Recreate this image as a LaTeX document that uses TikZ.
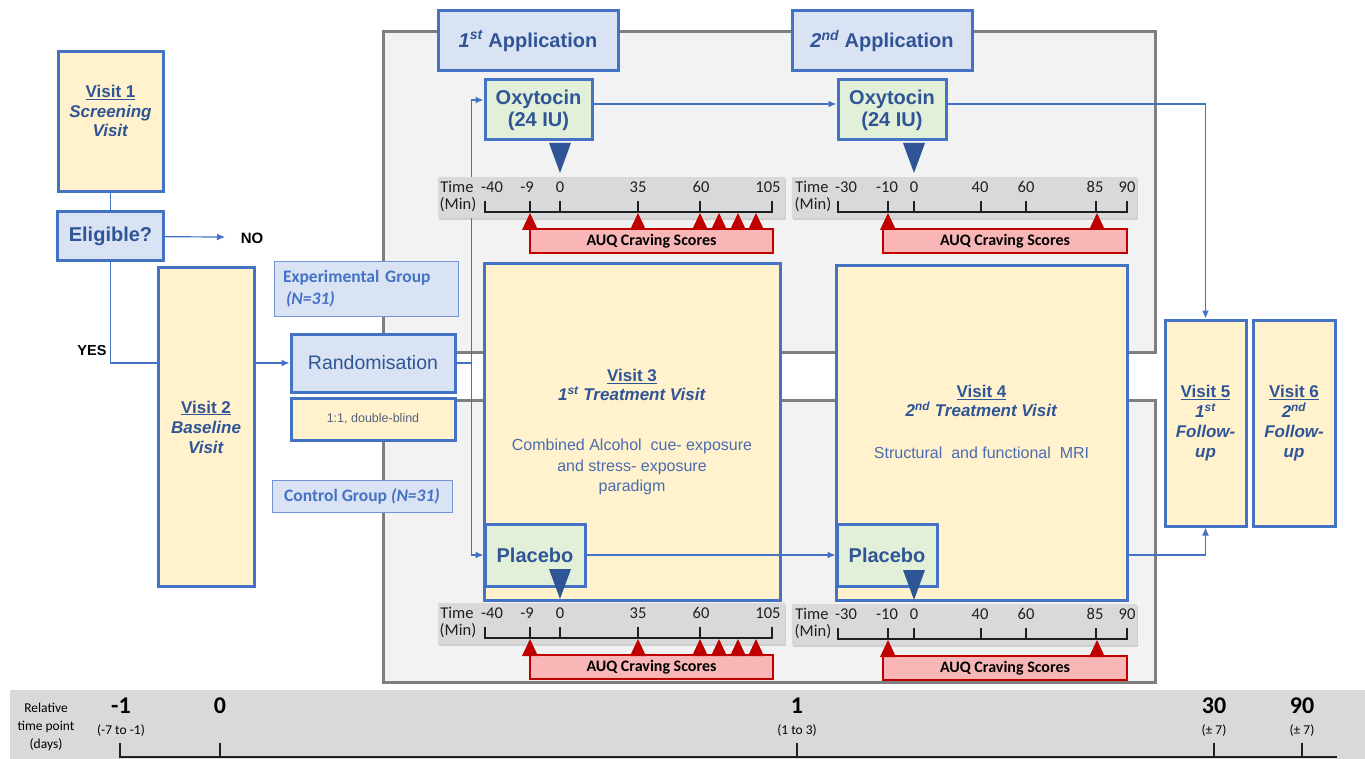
\documentclass[tikz,border=0pt]{standalone}
\usepackage{fontspec}
\setmainfont{Liberation Sans}
\newfontfamily\calfont{Carlito}
\usetikzlibrary{arrows.meta,shadows}
\definecolor{boxblue}{HTML}{4472C4}
\definecolor{txtblue}{HTML}{2F5597}
\definecolor{descblue}{HTML}{4A6CB0}
\definecolor{ratiogrey}{HTML}{55627A}
\definecolor{boxyellow}{HTML}{FFF2CC}
\definecolor{boxlblue}{HTML}{DAE3F3}
\definecolor{boxgreen}{HTML}{E2F0D9}
\definecolor{panelfill}{HTML}{F2F2F2}
\definecolor{panelgrey}{HTML}{7F7F7F}
\definecolor{stripgrey}{HTML}{D9D9D9}
\definecolor{auqred}{HTML}{C00000}
\definecolor{auqpink}{HTML}{F8B6B6}
\definecolor{ticktext}{HTML}{1F1F1F}
\newcommand{\fsz}[2]{\fontsize{#1}{#2}\selectfont}

\tikzset{
  box/.style={draw=boxblue, line width=3pt, text=txtblue, align=center, inner sep=0pt},
  visit/.style={box, fill=boxyellow, font=\bfseries\fsz{17}{20}},
  vlab/.style={text=txtblue, align=center, inner sep=0pt, font=\bfseries\fsz{17}{19.5}},
  head/.style={box, fill=boxlblue, font=\bfseries\fsz{20}{22}},
  drug/.style={box, fill=boxgreen, font=\bfseries\fsz{20}{22}},
  group/.style={draw=boxblue!75, line width=1pt, fill=boxlblue, text=boxblue, align=left, inner sep=0pt, font=\calfont\bfseries\fsz{17.5}{22}},
  panel/.style={draw=panelgrey, line width=3pt, fill=panelfill},
  strip/.style={fill=stripgrey, inner sep=0pt, drop shadow={shadow xshift=1pt, shadow yshift=-2pt, opacity=.3}},
  auq/.style={draw=auqred, line width=2.5pt, fill=auqpink, inner sep=0pt, font=\calfont\bfseries\fsz{16}{18}},
  ticklab/.style={text=ticktext, inner sep=0pt, font=\calfont\fsz{16.5}{18}},
  daylab/.style={text=black, inner sep=0pt, align=center, font=\calfont\fsz{13.5}{18}},
  daynum/.style={text=black, inner sep=0pt, font=\calfont\bfseries\fsz{24}{26}},
  tlaxis/.style={line width=2.8pt, draw=ticktext},
  link/.style={draw=boxblue, line width=1.2pt},
  dose/.style={fill=txtblue},
  score/.style={fill=auqred}
}

\begin{document}
\begin{tikzpicture}[x=1pt,y=-1pt,>={Latex[length=8pt,width=7pt]}]
\useasboundingbox (0,0) rectangle (1365,759);

\draw[panel] (383,32) rectangle (1155,352);
\draw[panel] (383,400) rectangle (1155,682);

\node[visit, minimum width=105pt, minimum height=140pt] (v1) at (110.5,122) {};
\node[vlab] (v1lab) at (110.5,111) {\underline{Visit 1}\\\textit{Screening}\\\textit{Visit}};
\node[head, minimum width=106pt, minimum height=49pt] (elig) at (110.5,236.5) {Eligible?};
\coordinate (noend) at (225,237);
\node[font=\bfseries\fsz{15}{17}, inner sep=0pt] (no) at (252,238) {NO};
\node[font=\bfseries\fsz{14.5}{17}, inner sep=0pt] (yes) at (92,351) {YES};
\node[visit, minimum width=96pt, minimum height=318pt] (v2) at (206,427) {\underline{Visit 2}\\\textit{Baseline}\\\textit{Visit}};

\node[group, minimum width=184pt, minimum height=54pt, text width=166pt, inner xsep=9pt] (expg) at (366,289) {Experimental Group\\\hspace*{3pt}\textit{(N=31)}};
\node[head, font=\fsz{19.5}{22}, minimum width=164pt, minimum height=58pt] (rand) at (373,363) {Randomisation};
\node[visit, font=\fsz{12.5}{14}, text=ratiogrey, minimum width=164pt, minimum height=42pt] (ratio) at (373,419) {1:1, double-blind};
\node[group, minimum width=180pt, minimum height=32pt] (ctrlg) at (362,496) {Control Group \textit{(N=31)}};

\node[head, minimum width=180pt, minimum height=60pt] (app1) at (528,41) {\textit{1\textsuperscript{st}} Application};
\node[head, minimum width=180pt, minimum height=60pt] (app2) at (882,41) {\textit{2\textsuperscript{nd}} Application};
\node[drug, minimum width=107pt, minimum height=60pt] (oxy1) at (538.5,110) {Oxytocin\\(24 IU)};
\node[drug, minimum width=108pt, minimum height=60pt] (oxy2) at (892,110) {Oxytocin\\(24 IU)};

\node[visit, minimum width=296pt, minimum height=336pt] (v3) at (632,432) {};
\node[vlab] (v3lab) at (632,385) {\underline{Visit 3}\\\textit{1\textsuperscript{st} Treatment Visit}};
\node[vlab, font=\fsz{16}{20.5}, text=descblue] (v3desc) at (632,467) {Combined Alcohol\ \ cue- exposure\\and stress- exposure\\paradigm};
\node[visit, minimum width=291pt, minimum height=334pt] (v4) at (981.5,433) {};
\node[vlab] (v4lab) at (981.5,401) {\underline{Visit 4}\\\textit{2\textsuperscript{nd} Treatment Visit}};
\node[vlab, font=\fsz{16}{20.5}, text=descblue] (v4desc) at (981.5,453) {Structural\ \ and functional\ \ MRI};
\node[drug, minimum width=100pt, minimum height=62pt] (pl1) at (535,555) {Placebo};
\node[drug, minimum width=100pt, minimum height=62pt] (pl2) at (887,555) {Placebo};
\node[visit, minimum width=81pt, minimum height=206pt] (v5) at (1205.5,423) {\underline{Visit 5}\\\textit{1\textsuperscript{st}}\\\textit{Follow-}\\\textit{up}};
\node[visit, minimum width=82pt, minimum height=206pt] (v6) at (1294,423) {\underline{Visit 6}\\\textit{2\textsuperscript{nd}}\\\textit{Follow-}\\\textit{up}};

\draw[link] (v1) -- (elig);
\draw[link,->] (elig) -- (noend);
\draw[link] (elig) |- (v2.west |- rand);
\draw[link,->] (v2.east |- rand) -- (rand);
\draw[link,->] (rand.east) -- ++(15,0) |- ([yshift=10pt]oxy1.west);
\draw[link,->] (rand.east) -- ++(15,0) |- (pl1.west);
\draw[link,->] ([yshift=6pt]oxy1.east) -- ([yshift=6pt]oxy2.west);
\draw[link,->] ([yshift=6pt]oxy2.east) -| (v5);
\draw[link,->] (pl1) -- (pl2);
\draw[link,->] (v4.east |- pl2) -| (v5);

\foreach \dy/\n in {0/a,426/b} {
  \begin{scope}[shift={(0,\dy)}]
    \node[strip, minimum width=347pt, minimum height=41pt] (strip\n) at (611.5,197.5) {};
    \node[ticklab] (time\n) at (457,187) {Time};
    \node[ticklab] (min\n) at (458,205) {(Min)};
    \draw[tlaxis] (485,201) -- (485,212) -- (772,212) -- (772,201);
    \foreach \x in {530,560,638,700} \draw[tlaxis] (\x,212) -- (\x,201);
    \foreach \x/\t in {492/-40,527/-9,560/0,638/35,701/60,768/105}
      \node[ticklab] (t\n\x) at (\x,187) {\t};
    \node[auq, minimum width=243pt, minimum height=24pt] (auq\n) at (651.5,241) {AUQ Craving Scores};
    \foreach \x in {530,638,700,719,738,756}
      \fill[score] (\x,213) -- (\x+8,230) -- (\x-8,230) -- cycle;
    \fill[dose] (549,143) -- (571,143) -- (560,173) -- cycle;
  \end{scope}
}

\foreach \dy/\n in {0/c,427/d} {
  \begin{scope}[shift={(0,\dy)}]
    \node[strip, minimum width=345pt, minimum height=41pt] (strip\n) at (964.5,197.5) {};
    \node[ticklab] (time\n) at (812,187) {Time};
    \node[ticklab] (min\n) at (813,205) {(Min)};
    \draw[tlaxis] (838,201) -- (838,212) -- (1127,212) -- (1127,201);
    \foreach \x in {888,914,981,1026,1096} \draw[tlaxis] (\x,212) -- (\x,201);
    \foreach \x/\t in {846/-30,887/-10,914/0,980/40,1026/60,1095/85,1127/90}
      \node[ticklab] (t\n\x) at (\x,187) {\t};
    \node[auq, minimum width=244pt, minimum height=24pt] (auq\n) at (1005,241) {AUQ Craving Scores};
    \foreach \x in {888,1097}
      \fill[score] (\x,213) -- (\x+8,230) -- (\x-8,230) -- cycle;
    \fill[dose] (903,143) -- (925,143) -- (914,173) -- cycle;
  \end{scope}
}

\fill[stripgrey] (10,690) rectangle (1365,759);
\node[daylab] (rel) at (46,727) {Relative\\time point\\(days)};
\draw[tlaxis] (120,743) -- (120,757) -- (1337,757);
\foreach \x in {220,797,1214,1302} \draw[tlaxis] (\x,757) -- (\x,743);
\foreach \x/\d/\r in {121/-1/{(-7 to -1)},220/0/{},797/1/{(1 to 3)},1214/30/{(± 7)},1302/90/{(± 7)}} {
  \node[daynum] (d\x) at (\x,706) {\d};
  \node[daylab] (r\x) at (\x,730) {\r};
}
\end{tikzpicture}
\end{document}
